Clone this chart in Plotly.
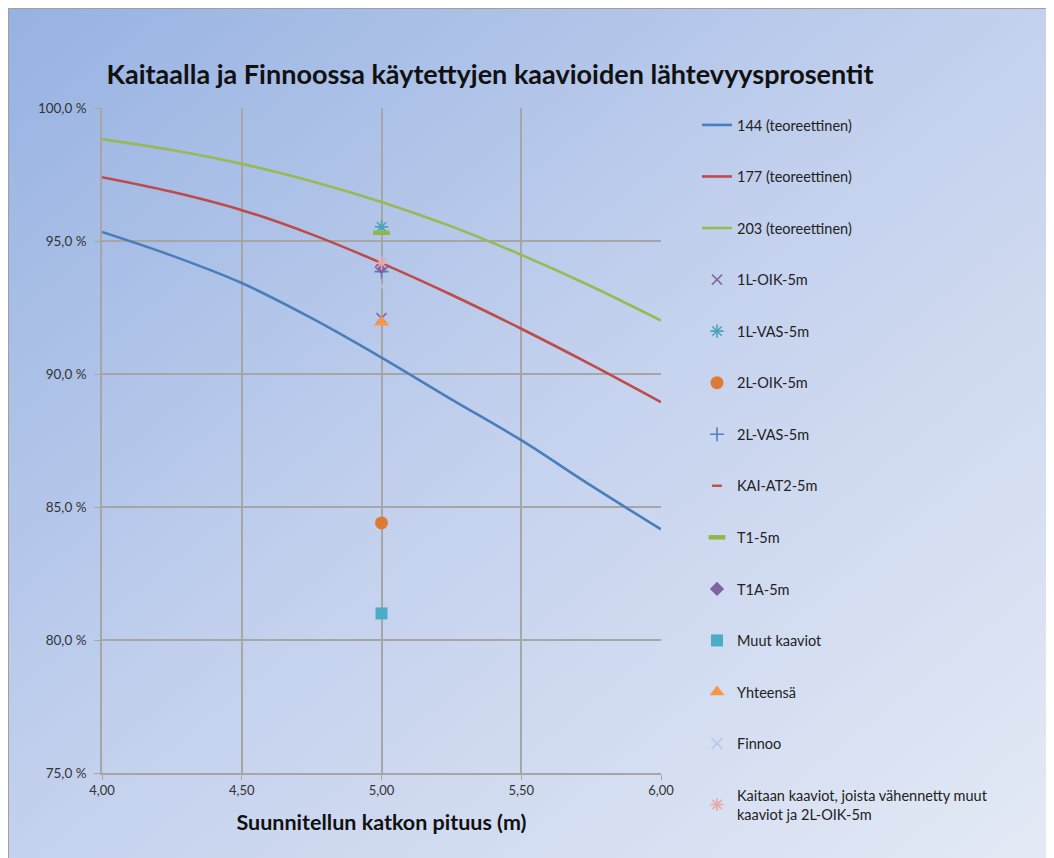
import base64
import plotly.graph_objects as go

# ---- data ----
x_curve = [4.00, 4.25, 4.50, 4.75, 5.00, 5.25, 5.50, 5.75, 6.00]
y_144 = [95.34, 94.45, 93.42, 92.10, 90.62, 89.05, 87.51, 85.80, 84.16]
y_177 = [97.40, 96.85, 96.16, 95.25, 94.17, 92.98, 91.70, 90.35, 88.94]
y_203 = [98.83, 98.42, 97.90, 97.25, 96.47, 95.55, 94.48, 93.30, 92.01]

curve_names = ["144 (teoreettinen)", "177 (teoreettinen)", "203 (teoreettinen)"]
curve_colors = ["#4a7ebb", "#be4b48", "#98b954"]

point_x = 5.0
point_names = [
    "1L-OIK-5m", "1L-VAS-5m", "2L-OIK-5m", "2L-VAS-5m", "KAI-AT2-5m", "T1-5m",
    "T1A-5m", "Muut kaaviot", "Yhteensä", "Finnoo",
    "Kaitaan kaaviot, joista vähennetty muut<br>kaaviot ja 2L-OIK-5m",
]
point_values = [92.10, 95.53, 84.40, 93.85, 94.10, 95.31, 94.02, 81.00, 91.95, 93.30, 94.17]

x_ticks = [4.0, 4.5, 5.0, 5.5, 6.0]
x_ticktext = ["4,00", "4,50", "5,00", "5,50", "6,00"]
y_ticks = [75, 80, 85, 90, 95, 100]
y_ticktext = ["75,0 %", "80,0 %", "85,0 %", "90,0 %", "95,0 %", "100,0 %"]

title_text = "Kaitaalla ja Finnoossa käytettyjen kaavioiden lähtevyysprosentit"
x_title = "Suunnitellun katkon pituus (m)"

# ---- styles ----
point_styles = [
    dict(symbol="x-thin-open", size=10, color="#7f6c9e", line=dict(width=1.6, color="#7f6c9e")),
    dict(symbol="asterisk-open", size=11, color="#4aa3b8", line=dict(width=1.6, color="#4aa3b8")),
    dict(symbol="circle", size=13, color="#de7a34"),
    dict(symbol="cross-thin-open", size=10, color="#4f81bd", line=dict(width=1.6, color="#4f81bd")),
    dict(symbol="line-ew-open", size=7, color="#c0504d", line=dict(width=2.5, color="#c0504d")),
    dict(symbol="line-ew-open", size=12, color="#8fb84a", line=dict(width=4.5, color="#8fb84a")),
    dict(symbol="diamond", size=11, color="#8064a2"),
    dict(symbol="square", size=12, color="#4bacc6"),
    dict(symbol="triangle-up", size=13, color="#f79646"),
    dict(symbol="x-thin-open", size=11, color="#b8c6e6", line=dict(width=1.6, color="#b8c6e6")),
    dict(symbol="asterisk-open", size=11, color="#e8a9a9", line=dict(width=1.6, color="#e8a9a9")),
]

fig = go.Figure()
for name, ys, col in zip(curve_names, [y_144, y_177, y_203], curve_colors):
    fig.add_trace(go.Scatter(
        x=x_curve, y=ys, name=name, mode="lines",
        line=dict(color=col, width=2.6, shape="spline"),
        legendgroup=name,
    ))
for name, val, st in zip(point_names, point_values, point_styles):
    fig.add_trace(go.Scatter(
        x=[point_x], y=[val], name=name, mode="markers",
        marker=st, legendgroup=name,
    ))

# background gradient
W, H = 1054, 858
svg = f'''<svg xmlns="http://www.w3.org/2000/svg" width="{W}" height="{H}" viewBox="0 0 {W} {H}">
<defs><linearGradient id="g" x1="0" y1="0" x2="1" y2="1">
<stop offset="0" stop-color="#96b2e2"/>
<stop offset="0.5" stop-color="#c5d2ee"/>
<stop offset="1" stop-color="#e4eaf5"/>
</linearGradient></defs>
<rect x="0.5" y="0.5" width="{W-1}" height="{H-1}" fill="url(#g)" stroke="#a0a0a0" stroke-width="1"/>
</svg>'''
src = "data:image/svg+xml;base64," + base64.b64encode(svg.encode()).decode()

L, R, T, B = 94, 653, 100, 765
pw, ph = R - L, B - T

fig.add_layout_image(dict(
    source=src, xref="paper", yref="paper",
    x=-L / pw, y=B / ph,
    sizex=W / pw, sizey=H / ph,
    xanchor="left", yanchor="top", sizing="stretch", layer="below",
))

font_family = "Lato, 'Liberation Sans', Arial, sans-serif"

fig.update_layout(
    width=W, height=H,
    margin=dict(l=L, r=W - R, t=T, b=H - B, pad=0),
    paper_bgcolor="white", plot_bgcolor="white",
    font=dict(family=font_family, color="#333333", size=12),
    title=dict(text=f"<b>{title_text}</b>", x=482 / W, xanchor="center",
               y=1 - 67 / H, yanchor="middle", xref="container", yref="container",
               font=dict(size=27, color="#111111", family=font_family)),
    xaxis=dict(range=[4, 6], tickvals=x_ticks, ticktext=x_ticktext,
               showgrid=True, gridcolor="#a6a6a6", gridwidth=1.5,
               showline=True, linecolor="#a6a6a6", linewidth=1.5, mirror=False,
               ticks="outside", ticklen=5, tickcolor="#a6a6a6",
               zeroline=False, tickfont=dict(size=13, color="#333333"),
               title=dict(text=f"<b>{x_title}</b>", font=dict(size=21.5, color="#111111"), standoff=18)),
    yaxis=dict(range=[75, 100], tickvals=y_ticks, ticktext=y_ticktext,
               showgrid=True, gridcolor="#a6a6a6", gridwidth=1.5,
               showline=True, linecolor="#a6a6a6", linewidth=1.5,
               ticks="outside", ticklen=6, tickcolor="#a6a6a6", ticklabelstandoff=5,
               zeroline=False, tickfont=dict(size=13.5, color="#333333")),
    legend=dict(x=689 / W, xanchor="left", xref="container",
                y=1 - 101 / H, yanchor="top", yref="container",
                maxheight=820,
                bgcolor="rgba(0,0,0,0)", font=dict(size=14.5, color="#222222"),
                tracegroupgap=29.7, itemwidth=30, traceorder="grouped"),
    showlegend=True,
)

fig.write_html("out.html")
